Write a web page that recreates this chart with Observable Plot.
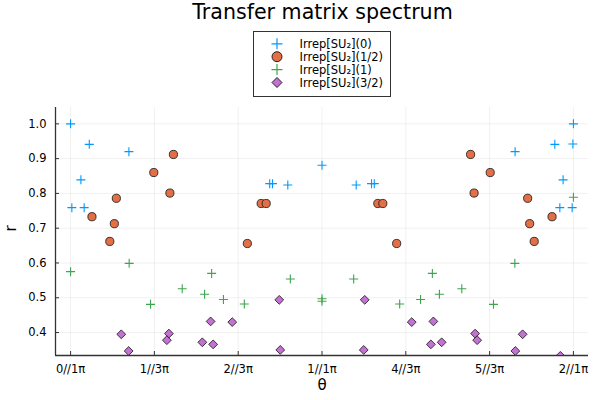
<!DOCTYPE html>
<html>
<head>
<meta charset="utf-8">
<script src="https://cdn.jsdelivr.net/npm/d3@7"></script>
<script src="https://cdn.jsdelivr.net/npm/@observablehq/plot@0.6"></script>
<style>
  body { margin: 0; background: #fff; font-family: "DejaVu Sans", sans-serif; }
  #wrap { position: relative; width: 600px; height: 400px; overflow: hidden; }
  #header { position: relative; width: 600px; height: 100px; }
  #title { position: absolute; top: -0.5px; left: 322.5px; transform: translateX(-50%); font-size: 20.6px; line-height: 24px; white-space: nowrap; color: #000; }
  #legend { position: absolute; left: 252.5px; top: 30.5px; }
  #chart svg { display: block; }
</style>
</head>
<body>
<div id="wrap">
  <div id="header">
    <div id="title">Transfer matrix spectrum</div>
    <div id="legend"></div>
  </div>
  <div id="chart"></div>
</div>
<script>
// θ values are in units of π
const seriesNames = ["Irrep[SU₂](0)", "Irrep[SU₂](1/2)", "Irrep[SU₂](1)", "Irrep[SU₂](3/2)"];
const seriesColors = ["#009AFA", "#E36F47", "#3EA44E", "#C371D2"];

const theta0 = [0, 0.0744, 0.232, 0.041, 0.005, 0.054, 0.792, 0.803, 0.864, 1.0, 1.136, 1.197, 1.208, 1.768, 1.926, 2.0, 1.998, 1.959, 1.946, 1.995];
const r0     = [1.0, 0.941, 0.920, 0.839, 0.759, 0.759, 0.828, 0.828, 0.824, 0.881, 0.824, 0.828, 0.828, 0.920, 0.941, 1.0, 0.942, 0.839, 0.759, 0.759];

const theta1 = [0.409, 0.331, 0.395, 0.182, 0.085, 0.174, 0.156, 0.758, 0.778, 0.703, 1.222, 1.242, 1.297, 1.591, 1.669, 1.605, 1.818, 1.915, 1.826, 1.844];
const r1     = [0.912, 0.860, 0.801, 0.786, 0.733, 0.713, 0.662, 0.771, 0.771, 0.656, 0.771, 0.771, 0.656, 0.912, 0.860, 0.801, 0.786, 0.733, 0.713, 0.662];

const theta2 = [0, 0.233, 0.444, 0.318, 0.561, 0.533, 0.608, 0.691, 0.874, 1.0, 1.0, 1.126, 1.309, 1.392, 1.439, 1.467, 1.556, 1.767, 1.682, 2.0];
const r2     = [0.575, 0.599, 0.526, 0.481, 0.570, 0.510, 0.495, 0.482, 0.554, 0.497, 0.490, 0.554, 0.482, 0.495, 0.570, 0.510, 0.526, 0.599, 0.481, 0.789];

const theta3 = [0.2016, 0.231, 0.391, 0.383, 0.524, 0.567, 0.557, 0.643, 0.830, 0.834, 1.166, 1.170, 1.357, 1.443, 1.433, 1.476, 1.609, 1.617, 1.798, 1.769, 1.948];
const r3     = [0.395, 0.347, 0.397, 0.378, 0.372, 0.366, 0.432, 0.430, 0.494, 0.350, 0.350, 0.494, 0.430, 0.432, 0.366, 0.372, 0.397, 0.378, 0.395, 0.347, 0.333];

const xTicks = [0, 1/3, 2/3, 1, 4/3, 5/3, 2];
const xTickLabels = ["0//1π", "1//3π", "2//3π", "1//1π", "4//3π", "5//3π", "2//1π"];
const yTicks = [0.4, 0.5, 0.6, 0.7, 0.8, 0.9, 1.0];
const xDomain = [-0.06, 2.06];
const yDomain = [0.334, 1.047];

const toRows = (t, r) => t.map((d, i) => ({theta: d, r: r[i]}));
const s0 = toRows(theta0, r0), s1 = toRows(theta1, r1), s2 = toRows(theta2, r2), s3 = toRows(theta3, r3);

const plusSym = {draw(ctx, size) { const r = Math.sqrt(size / Math.PI); ctx.moveTo(-r, 0); ctx.lineTo(r, 0); ctx.moveTo(0, -r); ctx.lineTo(0, r); }};
const diamondSym = {draw(ctx, size) { const r = Math.sqrt(size / Math.PI); ctx.moveTo(0, -r); ctx.lineTo(r, 0); ctx.lineTo(0, r); ctx.lineTo(-r, 0); ctx.closePath(); }};

const plot = Plot.plot({
  width: 600,
  height: 300,
  marginTop: 7,
  marginBottom: 45,
  marginLeft: 55,
  marginRight: 12,
  style: {fontFamily: "DejaVu Sans, sans-serif", fontSize: "11.5px", color: "#000", background: "#fff", overflow: "visible"},
  x: {domain: xDomain, ticks: xTicks, tickFormat: d => xTickLabels[xTicks.indexOf(d)], tickSize: -4, tickPadding: 13, label: null},
  y: {domain: yDomain, ticks: yTicks, tickFormat: d3.format(".1f"), tickSize: -4, tickPadding: 13, label: null},
  marks: [
    Plot.gridX(xTicks, {stroke: "#000", strokeOpacity: 0.1, strokeWidth: 0.6}),
    Plot.gridY(yTicks, {stroke: "#000", strokeOpacity: 0.1, strokeWidth: 0.6}),
    Plot.ruleX([xDomain[0]], {stroke: "#333", strokeWidth: 1.3}),
    Plot.ruleY([yDomain[0]], {stroke: "#333", strokeWidth: 1.3}),
    Plot.dot(s0, {x: "theta", y: "r", symbol: plusSym, r: 4.5, fill: "none", stroke: seriesColors[0], strokeWidth: 1.1, clip: true}),
    Plot.dot(s1, {x: "theta", y: "r", symbol: "circle", r: 4.1, fill: seriesColors[1], stroke: "#111", strokeWidth: 0.8, clip: true}),
    Plot.dot(s2, {x: "theta", y: "r", symbol: plusSym, r: 4.5, fill: "none", stroke: seriesColors[2], strokeWidth: 1.1, clip: true}),
    Plot.dot(s3, {x: "theta", y: "r", symbol: diamondSym, r: 4.4, fill: seriesColors[3], stroke: "#111", strokeWidth: 0.8, clip: true}),
    Plot.axisX(xTicks, {tickSize: -4, tickPadding: 13, tickFormat: d => xTickLabels[xTicks.indexOf(d)], stroke: "#333", label: null}),
    Plot.axisY(yTicks, {tickSize: -4, tickPadding: 13, tickFormat: d3.format(".1f"), stroke: "#333", label: null}),
    Plot.text(["θ"], {frameAnchor: "bottom", dy: 30, fontSize: 15, lineAnchor: "middle"}),
    Plot.text(["r"], {frameAnchor: "left", dx: -44, rotate: -90, fontSize: 15, lineAnchor: "middle"})
  ]
});
document.getElementById("chart").appendChild(plot);

// legend
const lw = 138, lh = 66;
const leg = d3.select("#legend").append("svg").attr("width", lw).attr("height", lh)
  .style("display", "block").style("overflow", "visible");
leg.append("rect").attr("x", 0.5).attr("y", 0.5).attr("width", lw - 1).attr("height", lh - 1)
  .attr("fill", "#fff").attr("stroke", "#333").attr("stroke-width", 1);
const symbolsLeg = [plusSym, d3.symbolCircle, plusSym, diamondSym];
seriesNames.forEach((name, i) => {
  const cy = 12.8 + i * 12.9;
  const g = leg.append("g").attr("transform", `translate(24,${cy})`);
  const isPlus = symbolsLeg[i] === plusSym;
  const rr = isPlus ? 5.5 : 5;
  const p = d3.path();
  symbolsLeg[i].draw(p, rr * rr * Math.PI);
  g.append("path").attr("d", p.toString())
    .attr("fill", isPlus ? "none" : seriesColors[i])
    .attr("stroke", isPlus ? seriesColors[i] : "#111")
    .attr("stroke-width", isPlus ? 1.2 : 0.9);
  leg.append("text").attr("x", 46.5).attr("y", cy).attr("dy", "0.35em")
    .attr("font-family", "DejaVu Sans, sans-serif").attr("font-size", "11.5px").attr("fill", "#000")
    .text(name);
});
</script>
</body>
</html>
